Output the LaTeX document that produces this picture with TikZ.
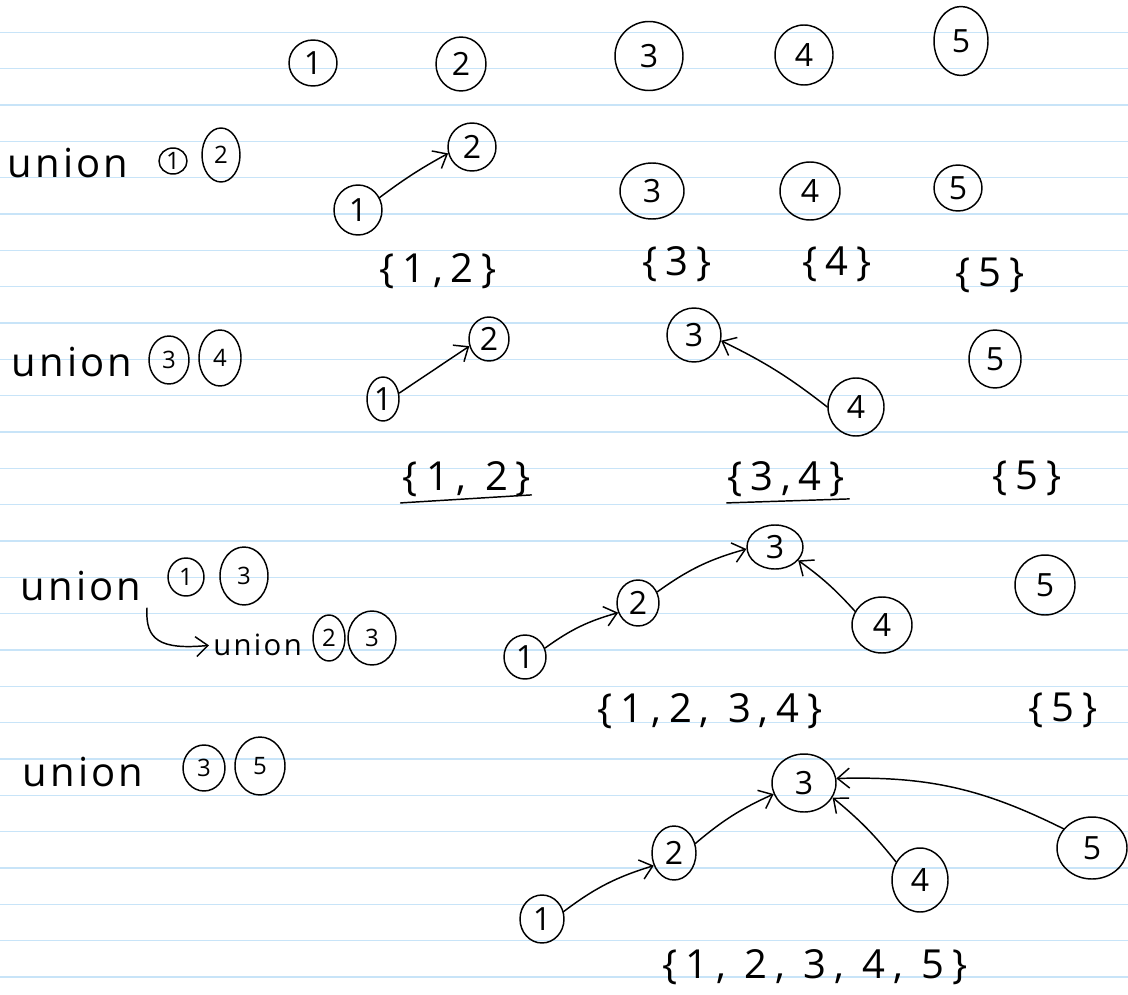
\documentclass[tikz,border=0pt]{standalone}
\usepackage{fontspec}
\setmainfont{Open Sans}
\usetikzlibrary{shapes.geometric,arrows.meta}
\definecolor{paperline}{RGB}{200,228,248}
\tikzset{
 pen/.style={line width=1.1pt, line cap=round, line join=round},
 sz/.style 2 args={minimum width=#1*0.75pt, minimum height=#2*0.75pt},
 nd/.style={ellipse, draw, pen, inner sep=0pt, font=\fontsize{24}{24}\selectfont},
 sm/.style={nd, font=\fontsize{18}{18}\selectfont},
 word/.style={font=\fontsize{30}{30}\selectfont\addfontfeature{LetterSpace=8}, inner sep=0pt},
 wordsm/.style={font=\fontsize{22}{22}\selectfont\addfontfeature{LetterSpace=8}, inner sep=0pt},
 setlbl/.style={font=\fontsize{30}{30}\selectfont\addfontfeature{LetterSpace=20}, inner sep=0pt},
 arr/.style={pen, -{Straight Barb[length=9pt,width=15pt]}},
 paperrule/.style={draw=paperline, line width=1pt}
}
\begin{document}
\begin{tikzpicture}[x=0.75pt,y=0.75pt]
\fill[white] (0,0) rectangle (1128,-995);
\useasboundingbox (0,0) rectangle (1128,-995);
\foreach \k in {0,...,26} { \draw[paperrule] (0,{-32.3-36.33*\k}) -- (1128,{-32.3-36.33*\k}); }

% row 0
\node[nd,sz={48}{46}] (a1) at (313,-63) {1};
\node[nd,sz={50}{54}] (a2) at (461,-64) {2};
\node[nd,sz={68}{69}] (a3) at (649,-56) {3};
\node[nd,sz={58}{60}] (a4) at (804,-55) {4};
\node[nd,sz={54}{69}] (a5) at (961,-41) {5};

% row 1
\node[word] (u1) at (68,-163) {union};
\node[sm,sz={28}{26}] (u1a) at (173,-161) {1};
\node[sm,sz={38}{54}] (u1b) at (221,-155) {2};
\node[nd,sz={48}{50}] (b1) at (358,-210) {1};
\node[nd,sz={48}{48}] (b2) at (472,-147) {2};
\node[nd,sz={64}{56}] (b3) at (652,-191) {3};
\node[nd,sz={60}{58}] (b4) at (810,-191) {4};
\node[nd,sz={48}{46}] (b5) at (958,-188) {5};
\draw[arr] (b1.30) to[bend left=4] (b2.195);
\node[setlbl] (bs1) at (438,-271) {\{1,2\}};
\node[setlbl] (bs2) at (677,-264) {\{3\}};
\node[setlbl] (bs3) at (837,-264) {\{4\}};
\node[setlbl] (bs4) at (990,-275) {\{5\}};

% row 2
\node[word] (u2) at (72,-362) {union};
\node[sm,sz={40}{48}] (u2a) at (169,-360) {3};
\node[sm,sz={42}{56}] (u2b) at (220,-358) {4};
\node[nd,sz={32}{44}] (c1) at (383,-399) {1};
\node[nd,sz={40}{44}] (c2) at (489,-339) {2};
\node[nd,sz={54}{54}] (c3) at (694,-335) {3};
\node[nd,sz={56}{58}] (c4) at (856,-407) {4};
\node[nd,sz={52}{58}] (c5) at (995,-359) {5};
\draw[arr] (c1.20) -- (c2.200);
\draw[arr] (c4.180) to[bend right=6] (c3.-12);
\node[setlbl] (cs1) at (467,-479) {\{1, 2\}};
\node[setlbl] (cs2) at (786,-479) {\{3,4\}};
\node[setlbl] (cs3) at (1027,-478) {\{5\}};
\draw[pen] ([shift={(-2,-6)}]cs1.south west) -- ([shift={(0,2)}]cs1.south east);
\draw[pen] ([shift={(0,-6)}]cs2.south west) -- ([shift={(4,-2)}]cs2.south east);

% row 3
\node[word] (u3) at (81,-586) {union};
\node[sm,sz={36}{38}] (u3a) at (186,-577) {1};
\node[sm,sz={48}{58}] (u3b) at (244,-576) {3};
\coordinate (h0) at (147,-608);
\node[wordsm, anchor=west] (u3c) at (213,-645) {union};
\node[sm,sz={32}{46}] (u3d) at (329,-638) {2};
\node[sm,sz={48}{54}] (u3e) at (372,-638) {3};
\draw[arr, shorten >=3pt] (h0) .. controls (145,-640) and (160,-650) .. (u3c.west);
\node[nd,sz={42}{44}] (d1) at (525,-657) {1};
\node[nd,sz={42}{46}] (d2) at (638,-603) {2};
\node[nd,sz={56}{44}] (d3) at (775,-547) {3};
\node[nd,sz={60}{56}] (d4) at (882,-625) {4};
\node[nd,sz={60}{60}] (d5) at (1045,-585) {5};
\draw[arr] (d1.24) to[bend left=10] (d2.206);
\draw[arr] (d2.30) to[bend left=10] (d3.184);
\draw[arr] (d4.153) to[bend right=6] (d3.-30);
\node[setlbl] (ds1) at (710,-711) {\{1,2, 3,4\}};
\node[setlbl] (ds2) at (1063,-710) {\{5\}};

% row 4
\node[word] (u4) at (83,-772) {union};
\node[sm,sz={42}{46}] (u4a) at (204,-768) {3};
\node[sm,sz={50}{58}] (u4b) at (260,-766) {5};
\node[nd,sz={44}{48}] (e1) at (542,-919) {1};
\node[nd,sz={44}{54}] (e2) at (674,-853) {2};
\node[nd,sz={64}{58}] (e3) at (804,-783) {3};
\node[nd,sz={56}{64}] (e4) at (920,-880) {4};
\node[nd,sz={70}{62}] (e5) at (1092,-848) {5};
\draw[arr] (e1.19) to[bend left=10] (e2.212);
\draw[arr] (e2.24) to[bend left=8] (e3.200);
\draw[arr] (e4.143) to[bend right=6] (e3.-27);
\draw[arr] (e5.146) to[bend right=14] (e3.8);
\node[setlbl] (es) at (815,-967) {\{1, 2, 3, 4, 5\}};
\end{tikzpicture}
\end{document}
